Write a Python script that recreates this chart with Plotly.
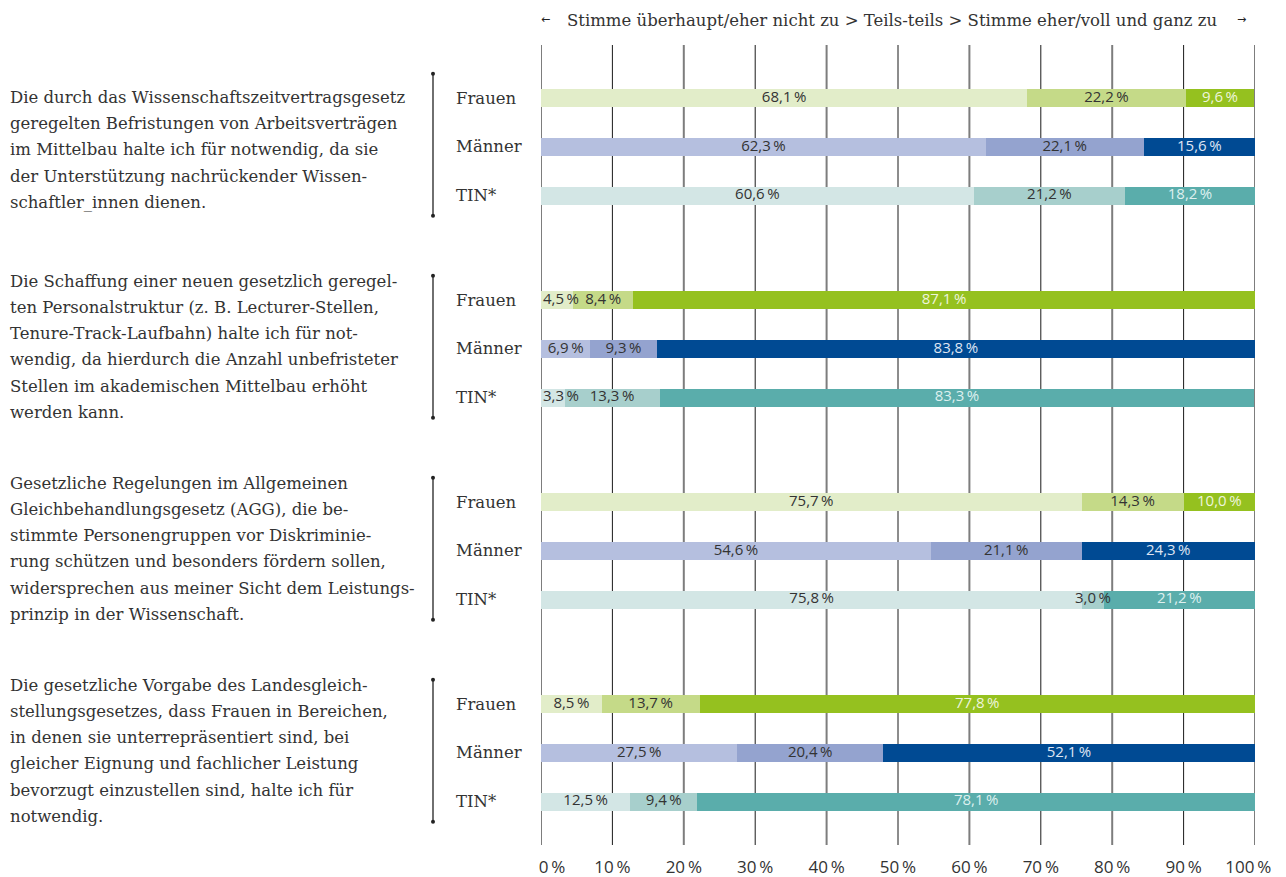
import plotly.graph_objects as go

# ---------------- data ----------------
genders = ["Frauen", "Männer", "TIN*"]
levels = ["Stimme überhaupt/eher nicht zu", "Teils-teils", "Stimme eher/voll und ganz zu"]

statements = [
    ["Die durch das Wissenschaftszeitvertragsgesetz",
     "geregelten Befristungen von Arbeitsverträgen",
     "im Mittelbau halte ich für notwendig, da sie",
     "der Unterstützung nachrückender Wissen-",
     "schaftler_innen dienen."],
    ["Die Schaffung einer neuen gesetzlich geregel-",
     "ten Personalstruktur (z. B. Lecturer-Stellen,",
     "Tenure-Track-Laufbahn) halte ich für not-",
     "wendig, da hierdurch die Anzahl unbefristeter",
     "Stellen im akademischen Mittelbau erhöht",
     "werden kann."],
    ["Gesetzliche Regelungen im Allgemeinen",
     "Gleichbehandlungsgesetz (AGG), die be-",
     "stimmte Personengruppen vor Diskriminie-",
     "rung schützen und besonders fördern sollen,",
     "widersprechen aus meiner Sicht dem Leistungs-",
     "prinzip in der Wissenschaft."],
    ["Die gesetzliche Vorgabe des Landesgleich-",
     "stellungsgesetzes, dass Frauen in Bereichen,",
     "in denen sie unterrepräsentiert sind, bei",
     "gleicher Eignung und fachlicher Leistung",
     "bevorzugt einzustellen sind, halte ich für",
     "notwendig."],
]

frauen = [[68.1, 22.2, 9.6], [4.5, 8.4, 87.1], [75.7, 14.3, 10.0], [8.5, 13.7, 77.8]]
maenner = [[62.3, 22.1, 15.6], [6.9, 9.3, 83.8], [54.6, 21.1, 24.3], [27.5, 20.4, 52.1]]
tin = [[60.6, 21.2, 18.2], [3.3, 13.3, 83.3], [75.8, 3.0, 21.2], [12.5, 9.4, 78.1]]
values = {"Frauen": frauen, "Männer": maenner, "TIN*": tin}

tick_vals = [0, 10, 20, 30, 40, 50, 60, 70, 80, 90, 100]
tick_text = ["0\u2009%", "10\u2009%", "20\u2009%", "30\u2009%", "40\u2009%", "50\u2009%",
             "60\u2009%", "70\u2009%", "80\u2009%", "90\u2009%", "100\u2009%"]

header = "Stimme überhaupt/eher nicht zu > Teils-teils > Stimme eher/voll und ganz zu"

# ---------------- styles ----------------
colors = {
    "Frauen": ["#e2edc9", "#c5da88", "#95c11f"],
    "Männer": ["#b5bfdf", "#94a3cf", "#004a93"],
    "TIN*": ["#d3e6e5", "#a7cfcc", "#5aadab"],
}
text_colors = {
    "Frauen": ["#333333", "#333333", "#eef5dc"],
    "Männer": ["#333333", "#333333", "#dfe5f3"],
    "TIN*": ["#333333", "#333333", "#def0ef"],
}

W, H = 1286, 877
L, R, T, B = 541, 31, 45, 32
PW = W - L - R
PH = H - T - B
SERIF = "DejaVu Serif"
SANS = "Open Sans"
MIN_LABEL_X = 2.8  # keep first labels from running left of the 0 % line

def px_to_paper(px):
    return (px - L) / PW

def py_to_paper(py):
    return (H - B - py) / PH

# row positions (y axis expressed in pixel-like units)
row0, gstep, rstep = 98, 202, 48.8
def row_y(q, i):
    return row0 + q * gstep + i * rstep

fig = go.Figure()

nq = len(frauen)
for gi, g in enumerate(genders):
    ys = [row_y(q, gi) for q in range(nq)]
    for li in range(3):
        xs = [values[g][q][li] for q in range(nq)]
        fig.add_trace(go.Bar(
            x=xs, y=ys, orientation="h", width=18,
            marker=dict(color=colors[g][li], line=dict(width=0)),
            name=f"{g} – {levels[li]}", showlegend=False, hoverinfo="skip",
        ))

# segment labels
lx, ly, lt, lc = [], [], [], []
for gi, g in enumerate(genders):
    for q in range(nq):
        cum = 0
        for li in range(3):
            v = values[g][q][li]
            cx = cum + v / 2
            if li == 0:
                cx = max(cx, MIN_LABEL_X)
            lx.append(cx)
            ly.append(row_y(q, gi))
            lt.append(f"{v:.1f}".replace(".", ",") + "\u2009%")
            lc.append(text_colors[g][li])
            cum += v
fig.add_trace(go.Scatter(
    x=lx, y=ly, text=lt, mode="text", cliponaxis=False,
    textfont=dict(family=SANS, size=15, color=lc),
    showlegend=False, hoverinfo="skip",
))

shapes = []
# grid lines
for v in tick_vals:
    major = (v % 20 == 0)
    shapes.append(dict(type="line", xref="x", yref="y", x0=v, x1=v, y0=T, y1=H - B,
                       layer="below",
                       line=dict(color="#7d7d7d" if major else "#1a1a1a", width=2 if major else 1)))

annotations = []
# category labels, brackets, statements
bx = px_to_paper(433)
for q in range(nq):
    for gi, g in enumerate(genders):
        annotations.append(dict(x=px_to_paper(454), y=row_y(q, gi), xref="paper", yref="y",
                                text=g, showarrow=False, xanchor="left", yanchor="middle",
                                font=dict(family=SERIF, size=16.5, color="#333333")))
    mid = (row_y(q, 0) + row_y(q, 2)) / 2 - 2
    y0, y1 = mid - 71, mid + 71
    shapes.append(dict(type="line", xref="paper", yref="y", x0=bx, x1=bx, y0=y0, y1=y1,
                       line=dict(color="#222222", width=1.3)))
    for yy in (y0, y1):
        shapes.append(dict(type="circle", xref="paper", yref="y", xsizemode="pixel", ysizemode="pixel",
                           xanchor=bx, yanchor=yy, x0=-2, x1=2, y0=-2, y1=2,
                           fillcolor="#222222", line=dict(width=0)))
    lines = statements[q]
    n = len(lines)
    adj = 3 if n == 5 else -2
    for k, line in enumerate(lines):
        annotations.append(dict(x=px_to_paper(8), y=mid + 2 + (k - (n - 1) / 2) * 26.2 + adj,
                                xref="paper", yref="y", text=line, showarrow=False,
                                xanchor="left", yanchor="middle",
                                font=dict(family=SERIF, size=16.5, color="#333333")))

# header
annotations.append(dict(x=px_to_paper(565), y=py_to_paper(20), xref="paper", yref="paper", text=header,
                        showarrow=False, xanchor="left", yanchor="middle",
                        font=dict(family=SERIF, size=16.5, color="#333333")))
annotations.append(dict(x=px_to_paper(545), y=py_to_paper(19), xref="paper", yref="paper", text="←",
                        showarrow=False, xanchor="center", yanchor="middle",
                        font=dict(family="DejaVu Sans", size=11, color="#222222")))
annotations.append(dict(x=px_to_paper(1241), y=py_to_paper(19), xref="paper", yref="paper", text="→",
                        showarrow=False, xanchor="center", yanchor="middle",
                        font=dict(family="DejaVu Sans", size=11, color="#222222")))

# edge tick labels are nudged inward as in the reference
tick_disp = list(tick_text)
tick_disp[0] = "\u00a0" * 5 + tick_disp[0]
tick_disp[-1] = tick_disp[-1] + "\u00a0" * 3

fig.update_layout(
    width=W, height=H, barmode="stack",
    margin=dict(l=L, r=R, t=T, b=B, autoexpand=False),
    paper_bgcolor="white", plot_bgcolor="white",
    shapes=shapes, annotations=annotations,
    xaxis=dict(range=[0, 100], tickvals=tick_vals, ticktext=tick_disp, showgrid=False,
               zeroline=False, showline=False, ticks="", ticklabelstandoff=10,
               tickfont=dict(family=SANS, size=17, color="#333333"), fixedrange=True),
    yaxis=dict(range=[H - B, T], showgrid=False, zeroline=False, showticklabels=False,
               showline=False, ticks="", fixedrange=True),
    bargap=0,
)

fig.write_html("out.html")
